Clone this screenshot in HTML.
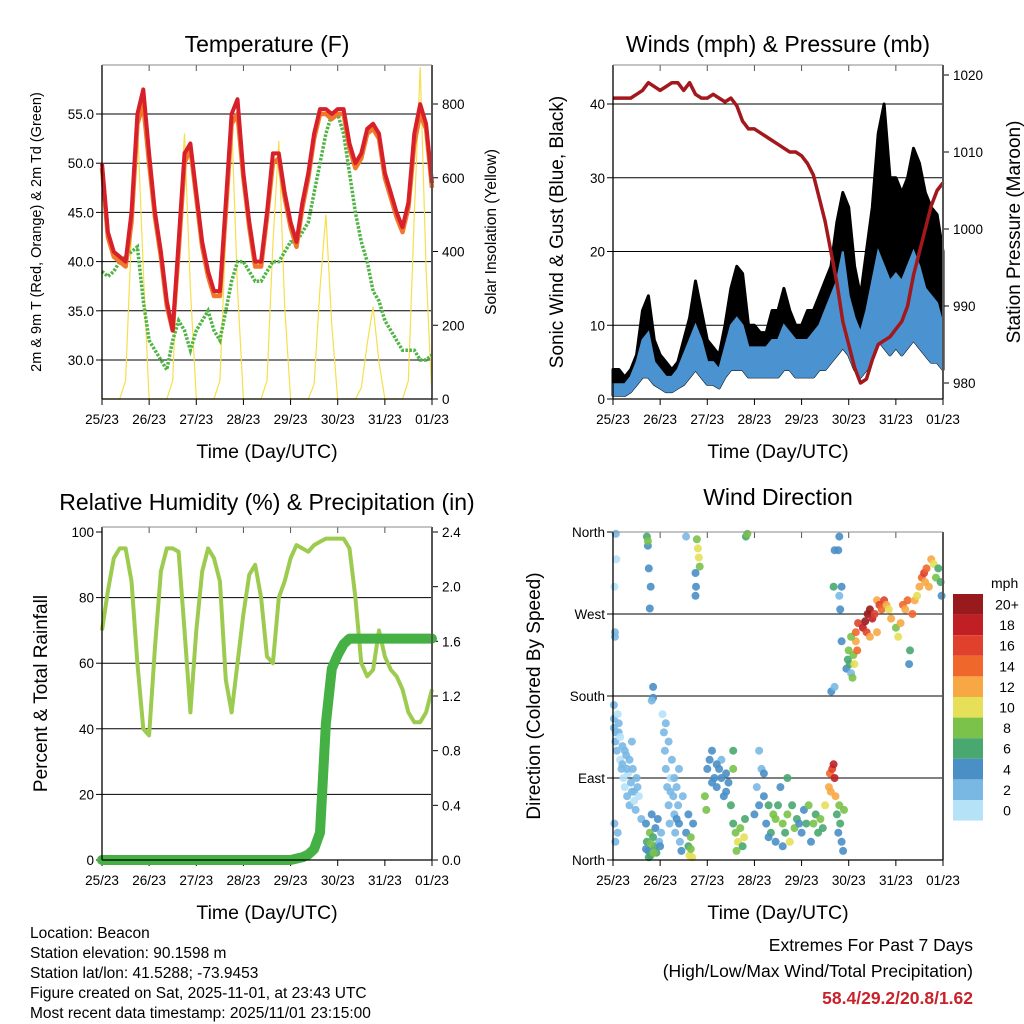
<!DOCTYPE html>
<html><head><meta charset="utf-8">
<style>
html,body{margin:0;padding:0;background:#fff;}
svg{display:block;font-family:"Liberation Sans",Arial,sans-serif;}
</style></head>
<body>
<svg id="fig" width="1024" height="1024" viewBox="0 0 1024 1024" xmlns="http://www.w3.org/2000/svg">
<rect width="1024" height="1024" fill="#fff"/>
<g id="layer"></g>
<g font-size="15.5" fill="#000">
<text x="30" y="938">Location: Beacon</text>
<text x="30" y="958">Station elevation: 90.1598 m</text>
<text x="30" y="978">Station lat/lon: 41.5288; -73.9453</text>
<text x="30" y="998">Figure created on Sat, 2025-11-01, at 23:43 UTC</text>
<text x="30" y="1018">Most recent data timestamp: 2025/11/01 23:15:00</text>
</g>
<g text-anchor="end">
<text x="973" y="951" font-size="17.5">Extremes For Past 7 Days</text>
<text x="973" y="977" font-size="17.5">(High/Low/Max Wind/Total Precipitation)</text>
<text x="973" y="1004" font-size="17.5" font-weight="bold" fill="#c8222a">58.4/29.2/20.8/1.62</text>
</g>
</svg>
<script>
// ---- data (3-hourly, t = 0..7 days) ----
const dayLabels = ["25/23","26/23","27/23","28/23","29/23","30/23","31/23","01/23"];
const tempRed = [50,43,41,40.5,40,45,55,57.5, 51,45,41,36,33,42,51,52, 47,42,39,37,37,46,55,56.5, 49,44,40,40,45,51,51,47, 44,42,46,49,53,55.5,55.5,55, 55.5,55.5,52,50,51,53.5,54,53, 49,47,45,43.5,46,53,56,54, 48];
const tempOrange = [49.5,42.5,40.5,40,39.5,44,54,56, 50,44.5,40.5,35.5,33,41,50,51.5, 46.5,41.5,38.5,36.5,36.5,45,54,55, 48.5,43.5,39.5,39.5,44.5,50,50.5,46.5, 43.5,41.5,45.5,48.5,52.5,55,55,54.5, 55,55,51.5,49.5,50.5,53,53.5,52.5, 48.5,46.5,44.5,43,45.5,52,55,53.5, 47.5];
const dewGreen = [39,38.5,39,40,40.5,41,41.5,36, 32,31,30,29,32,34,33,31, 33,34,35,33,32,35,38,40, 40,39,38,38,39,40,40,41, 42,42,43,44,47,50,53,55, 55,53,49,45,42,40,37,36, 34,33,32,31,31,31,30,30, 30.5];
const solar = [0,0,0,0,50,450,750,350, 0,0,0,0,50,450,720,300, 0,0,0,0,50,450,760,300, 0,0,0,0,50,420,700,250, 0,0,0,0,40,300,500,200, 0,0,0,0,30,150,250,100, 0,0,0,0,50,500,900,350, 0];
const pressure = [1017,1017,1017,1017,1017.5,1018,1019,1018.5, 1018,1018.5,1019,1019,1018,1019,1017.5,1017, 1017,1017.5,1017,1016.5,1017,1016,1014,1013, 1013,1012.5,1012,1011.5,1011,1010.5,1010,1010, 1009.5,1008.5,1007,1004,1001,997,993,988, 985,982,980,980.5,983,985,985.5,986, 987,988,990,994,997,1000,1003,1005, 1006];
const gustHi = [4,4,3,4,6,12,14,8, 6,5,4,5,8,11,16,12, 8,7,6,10,15,18,17,10, 10,9,9,12,12,15,12,10, 10,12,12,14,16,18,24,28, 26,18,14,20,26,36,40,30, 30,28,30,34,32,28,26,25, 20];
const windHi = [2,2,2,3,5,8,9,5, 4,3,3,4,6,8,10,8, 5,5,4,7,10,11,10,7, 7,7,7,8,8,10,9,8, 8,8,9,10,12,14,16,20, 14,11,9,12,16,20,18,16, 17,16,18,20,18,15,14,13, 10];
const windLo = [0.5,0.5,0.5,1,2,3,3,2, 1.5,1,1,1.5,2,3,4,3, 2,2,1.5,3,4,4,4,3, 3,3,3,3,3,4,4,3, 3,3,3,4,4,5,6,7, 6,4,3,4,6,8,7,6, 7,6,7,8,7,6,5,5, 4];
const relHum = [70,82,92,95,95,85,60,40, 38,65,88,95,95,94,70,45, 70,88,95,92,85,55,45,60, 75,87,90,80,62,60,80,85, 92,96,95,94,96,97,98,98, 98,98,95,80,60,56,58,70, 62,58,56,52,45,42,42,45, 52];
const precip = [0,0,0,0,0,0,0,0, 0,0,0,0,0,0,0,0, 0,0,0,0,0,0,0,0, 0,0,0,0,0,0,0,0, 0,0.01,0.02,0.04,0.08,0.2,1.0,1.4, 1.5,1.58,1.62,1.62,1.62,1.62,1.62,1.62, 1.62,1.62,1.62,1.62,1.62,1.62,1.62,1.62, 1.62];
const tempTicks = [30,35,40,45,50,55];
const solarTicks = [0,200,400,600,800];
const windTicks = [0,10,20,30,40];
const presTicks = [980,990,1000,1010,1020];
const rhTicks = [0,20,40,60,80,100];
const rainTicks = [0,0.4,0.8,1.2,1.6,2.0,2.4];
const dirTicks = [0,90,180,270,360];
const dirLabels = ["North","East","South","West","North"];
const speedBins = [0,2,4,6,8,10,12,14,16,18,20];
const speedBinLabels = ["0","2","4","6","8","10","12","14","16","18","20+"];
const speedColors = ["#b6e2f8","#7ab8e4","#4a8fc6","#48a870","#7ac24a","#e6df58","#f7a845","#f0672b","#e0402c","#c01f26","#981a1d"];
// wind direction obs: [day, direction deg, speed mph]
const windObs = [[0.02,155,2],[0.05,130,2],[0.08,120,2],[0.1,160,1],[0.12,140,2],[0.15,110,1],[0.18,100,2],[0.2,125,2],[0.22,90,1],[0.25,80,1],[0.28,115,2],[0.3,70,2],[0.32,95,1],[0.35,60,2],[0.38,85,2],[0.4,130,2],[0.42,100,2],[0.45,75,2],[0.48,55,2],[0.5,90,2],[0.55,70,1],[0.6,45,2],[0.03,40,3],[0.05,20,3],[0.1,30,2],[0.04,250,2],[0.04,245,2],[0.07,330,1],[0.06,358,2],[0.03,300,1],[0.02,170,2],[0.02,145,2],[0.06,140,2],[0.12,150,2],[0.15,135,1],[0.2,105,2],[0.25,120,2],[0.3,100,2],[0.35,110,2],[0.4,75,2],[0.45,65,1],[0.52,80,2],
[0.7,40,4],[0.72,20,6],[0.75,10,5],[0.78,30,8],[0.8,5,6],[0.82,50,4],[0.85,25,7],[0.88,15,6],[0.9,35,5],[0.92,8,7],[0.95,45,4],[0.98,20,3],[0.72,355,6],[0.74,345,5],[0.76,320,4],[0.8,300,4],[0.78,276,4],[0.74,350,8],[0.85,190,4],[0.85,178,4],[0.82,175,2],[0.7,12,4],[0.76,3,6],[0.8,18,8],[0.86,8,8],
[1.05,160,1],[1.08,140,2],[1.1,120,2],[1.12,100,2],[1.15,80,2],[1.18,60,2],[1.2,40,2],[1.22,90,1],[1.25,110,2],[1.28,70,2],[1.3,50,2],[1.32,30,2],[1.35,80,3],[1.38,60,3],[1.4,40,4],[1.42,20,3],[1.45,10,4],[1.48,70,2],[1.02,30,2],[1.0,15,4],[1.12,150,2],[1.18,130,2],[1.22,75,2],[1.3,90,2],[1.35,45,4],[1.4,100,2],
[1.55,30,4],[1.6,15,6],[1.62,5,10],[1.65,25,8],[1.68,3,10],[1.7,40,5],[1.55,355,3],[1.78,352,8],[1.8,342,10],[1.82,332,10],[1.84,322,8],[1.76,300,4],[1.75,290,4],[1.75,315,4],[1.6,50,4],[1.65,12,8],
[1.95,70,8],[1.98,55,8],[2.0,100,4],[2.05,110,4],[2.1,120,4],[2.15,90,4],[2.2,80,4],[2.25,100,4],[2.3,110,3],[2.35,70,4],[2.4,95,4],[2.45,85,4],[2.5,60,6],[2.55,40,6],[2.6,30,8],[2.65,20,10],[2.7,35,8],[2.75,15,6],[2.78,25,10],[2.8,45,6],[2.55,100,8],[2.55,120,6],[2.82,355,6],[2.85,358,8],[2.1,85,4],[2.2,105,4],[2.3,90,4],[2.4,75,4],[2.62,10,8],
[3.0,50,4],[3.05,80,2],[3.1,120,2],[3.15,100,3],[3.2,70,4],[3.25,40,4],[3.3,60,6],[3.35,30,6],[3.4,50,8],[3.45,20,4],[3.5,60,6],[3.55,80,4],[3.6,40,8],[3.65,30,6],[3.7,50,8],[3.75,20,10],[3.8,60,6],[3.85,35,8],[3.9,45,6],[3.95,40,4],[3.7,90,6],[3.1,60,4],[3.2,95,4],[3.3,25,4],[3.45,45,8],[3.6,15,4],
[4.0,30,4],[4.05,55,4],[4.1,40,6],[4.15,60,8],[4.2,20,4],[4.3,50,6],[4.35,30,6],[4.4,45,8],[4.5,60,10],[4.45,35,6],[4.25,40,8],
[4.58,80,12],[4.6,95,14],[4.62,75,12],[4.65,100,16],[4.7,90,18],[4.72,70,12],[4.68,105,18],[4.63,185,4],[4.7,190,2],[4.7,340,4],[4.68,300,6],
[4.75,50,6],[4.78,30,4],[4.8,60,8],[4.82,40,6],[4.85,20,4],[4.88,10,4],[4.9,55,8],[4.85,300,4],[4.8,290,2],[4.82,275,4],[4.85,240,4],[4.8,355,4],[4.78,340,4],
[4.95,210,4],[4.98,220,6],[5.0,230,8],[5.02,215,6],[5.05,205,2],[5.08,200,8],[5.1,225,8],[5.12,215,10],[5.15,240,12],[5.18,230,14],[5.05,245,8],[5.15,250,14],[5.2,260,16],
[5.3,255,18],[5.35,262,20],[5.4,270,20],[5.45,275,20],[5.5,265,18],[5.38,250,16],[5.45,245,12],[5.55,270,16],[5.6,285,12],[5.65,280,16],[5.7,275,14],[5.75,285,16],[5.8,280,12],[5.6,250,12],[5.85,275,10],[5.9,265,12],
[6.0,255,8],[6.05,245,10],[6.1,260,12],[6.15,280,14],[6.2,275,12],[6.25,285,14],[6.3,230,6],[6.28,215,4],[6.35,270,14],[6.4,285,12],[6.45,290,10],[6.5,300,12],[6.55,310,14],[6.6,315,16],[6.62,305,12],[6.65,320,14],[6.7,300,12],[6.75,330,12],[6.8,325,10],[6.85,310,8],[6.9,320,6],[6.95,305,6],[6.97,290,4]];

// ---- helpers ----
const NS = "http://www.w3.org/2000/svg";
const layer = document.getElementById("layer");
function el(tag, attrs, parent, txt){
  const e = document.createElementNS(NS, tag);
  for (const k in attrs) e.setAttribute(k, attrs[k]);
  if (txt !== undefined) e.textContent = txt;
  (parent || layer).appendChild(e);
  return e;
}
function lin(d0,d1,r0,r1){ return v => r0 + (v-d0)/(d1-d0)*(r1-r0); }
const tIdx = i => i*0.125;
function pathFrom(vals, xs, ys){
  return vals.map((v,i)=> (i?"L":"M") + xs(tIdx(i)).toFixed(1) + "," + ys(v).toFixed(1)).join("");
}
function bandPath(lo, hi, xs, ys){
  let d = hi.map((v,i)=> (i?"L":"M") + xs(tIdx(i)).toFixed(1) + "," + ys(v).toFixed(1)).join("");
  for (let i = lo.length-1; i >= 0; i--) d += "L" + xs(tIdx(i)).toFixed(1) + "," + ys(lo[i]).toFixed(1);
  return d + "Z";
}

function panel(cfg){
  const g = el("g", {});
  
  
  const {x0,x1,y0,y1} = cfg;
  const xs = lin(0,7,x0,x1);
  const tt = el("text", {x:(x0+x1)/2, y:cfg.titleY, "text-anchor":"middle", "font-size":23}, g, cfg.title);
  
  
  const lg = el("g", {}, g);
  
  
  cfg.leftTicks.forEach((v,i)=>{
    const y = cfg.ly(v);
    if (cfg.grid(v)) {
      const gl = el("line", {x1:x0, x2:x1, y1:y, y2:y, stroke:"#000", "stroke-width":1}, lg);
      
      
    }
    el("line", {x1:x0-6, x2:x0, y1:y, y2:y, stroke:"#000", "stroke-width":1}, lg);
    const lt = el("text", {x:x0-8, y:y+5, "text-anchor":"end", "font-size":13.5}, lg, cfg.leftFmt(v,i));
    
    
  });
  if (cfg.rightTicks) {
    const rg = el("g", {}, g);
    
    
    cfg.rightTicks.forEach(v=>{
      const y = cfg.ry(v);
      el("line", {x1:x1, x2:x1+6, y1:y, y2:y, stroke:"#000", "stroke-width":1}, rg);
      const rt = el("text", {x:x1+10, y:y+5, "font-size":13.5}, rg, cfg.rightFmt(v));
      
      
    });
  }
  const xg = el("g", {}, g);
  
  
  dayLabels.forEach((lab,i)=>{
    const x = xs(i);
    el("line", {x1:x, x2:x, y1:y1, y2:y1+6, stroke:"#000"}, xg);
    el("line", {x1:x, x2:x, y1:y0, y2:y0+6, stroke:"#555"}, xg);
    const xt = el("text", {x:x, y:y1+25, "text-anchor":"middle", "font-size":13.5}, xg, lab);
    
    
  });
  const xa = el("text", {x:(x0+x1)/2, y:y1+59, "text-anchor":"middle", "font-size":19.5}, g, "Time (Day/UTC)");
  
  
  const la = el("text", {x:0, y:0, "text-anchor":"middle", "font-size":cfg.lfs, transform:`translate(${cfg.lx},${(y0+y1)/2}) rotate(-90)`}, g, cfg.ltitle);
  
  
  if (cfg.rtitle) {
    const ra = el("text", {x:0, y:0, "text-anchor":"middle", "font-size":cfg.rfs, transform:`translate(${cfg.rx},${(y0+y1)/2}) rotate(-90)`}, g, cfg.rtitle);
    
    
  }
  const data = el("g", {}, g);
  
  
  cfg.draw(data, xs);
  el("line", {x1:x0, x2:x0, y1:y0, y2:y1, stroke:"#000", "stroke-width":1.3}, g);
  el("line", {x1:x1, x2:x1, y1:y0, y2:y1, stroke:"#555", "stroke-width":2}, g);
  el("line", {x1:x0, x2:x1, y1:y1, y2:y1, stroke:"#000", "stroke-width":1.3}, g);
  el("line", {x1:x0, x2:x1, y1:y0, y2:y0, stroke:"#888", "stroke-width":1}, g);
}

// ---- Temperature ----
const tY = lin(30,55,360,114);
const sY = lin(0,800,399,104);
panel({name:"temperature-chart", x0:102,x1:432,y0:65,y1:399, title:"Temperature (F)", titleY:52,
  leftTicks:tempTicks, ly:tY, grid:()=>true, leftFmt:v=>v.toFixed(1),
  rightTicks:solarTicks, ry:sY, rightFmt:v=>String(v),
  ltitle:"2m & 9m T (Red, Orange) & 2m Td (Green)", lx:41, lfs:14.5,
  rtitle:"Solar Insolation (Yellow)", rx:496, rfs:15.5,
  draw:(g,xs)=>{
    const s = el("path", {d:pathFrom(solar,xs,sY), fill:"none", stroke:"#f6df4c", "stroke-width":1.2}, g);
    
    
    const d = el("path", {d:pathFrom(dewGreen,xs,tY), fill:"none", stroke:"#4fb444", "stroke-width":3.5, "stroke-dasharray":"2.5 1.5"}, g);
    
    
    const o = el("path", {d:pathFrom(tempOrange,xs,tY), fill:"none", stroke:"#f0782a", "stroke-width":4.5, "stroke-linejoin":"round"}, g);
    
    
    const r = el("path", {d:pathFrom(tempRed,xs,tY), fill:"none", stroke:"#d8202a", "stroke-width":4, "stroke-linejoin":"round"}, g);
    
    
  }});

// ---- Winds & Pressure ----
const wY = lin(0,40,399,104);
const pY = lin(980,1020,383,75);
panel({name:"winds-pressure-chart", x0:613,x1:943,y0:65,y1:399, title:"Winds (mph) & Pressure (mb)", titleY:52,
  leftTicks:windTicks, ly:wY, grid:v=>v>0, leftFmt:v=>String(v),
  rightTicks:presTicks, ry:pY, rightFmt:v=>String(v),
  ltitle:"Sonic Wind & Gust (Blue, Black)", lx:563, lfs:19,
  rtitle:"Station Pressure (Maroon)", rx:1020, rfs:19,
  draw:(g,xs)=>{
    const gb = el("path", {d:bandPath(windLo,gustHi,xs,wY), fill:"#000", stroke:"#000", "stroke-width":3, "stroke-linejoin":"round"}, g);
    
    
    const wb = el("path", {d:bandPath(windLo,windHi,xs,wY), fill:"#4a93d0", stroke:"#4a93d0", "stroke-width":2}, g);
    
    
    const p = el("path", {d:pathFrom(pressure,xs,pY), fill:"none", stroke:"#a3181c", "stroke-width":3.5, "stroke-linejoin":"round"}, g);
    
    
  }});

// ---- RH & Precip ----
const hY = lin(0,100,860,532);
const rY = lin(0,2.4,860,532);
panel({name:"humidity-precip-chart", x0:102,x1:432,y0:527,y1:860, title:"Relative Humidity (%) & Precipitation (in)", titleY:510,
  leftTicks:rhTicks, ly:hY, grid:v=>v>0 && v<100, leftFmt:v=>String(v),
  rightTicks:rainTicks, ry:rY, rightFmt:v=>v.toFixed(1),
  ltitle:"Percent & Total Rainfall", lx:47, lfs:19,
  draw:(g,xs)=>{
    const h = el("path", {d:pathFrom(relHum,xs,hY), fill:"none", stroke:"#9ccb4f", "stroke-width":4, "stroke-linejoin":"round"}, g);
    
    
    const p = el("path", {d:pathFrom(precip,xs,rY), fill:"none", stroke:"#45b043", "stroke-width":10, "stroke-linejoin":"round", "stroke-linecap":"round"}, g);
    
    
  }});

// ---- Wind direction ----
const dY = lin(0,360,860,532);
function speedColor(s){ let c = speedColors[0]; speedBins.forEach((b,i)=>{ if (s >= b) c = speedColors[i]; }); return c; }
panel({name:"wind-direction-chart", x0:613,x1:943,y0:532,y1:860, title:"Wind Direction", titleY:505,
  leftTicks:dirTicks, ly:dY, grid:()=>true, leftFmt:(v,i)=>dirLabels[i],
  ltitle:"Direction (Colored By Speed)", lx:540, lfs:19,
  draw:(g,xs)=>{
    windObs.forEach(o=>{
      const c = el("circle", {cx:xs(o[0]).toFixed(1), cy:dY(o[1]).toFixed(1), r:4, fill:speedColor(o[2]), "fill-opacity":0.9}, g);
      
      
    });
  }});

// colorbar
const cb = el("g", {});


el("text", {x:991, y:588, "font-size":14}, cb, "mph");
speedColors.slice().reverse().forEach((c,i)=>{
  const y = 594 + i*20.6;
  const r = el("rect", {x:953, y:y, width:30, height:20.6, fill:c}, cb);
  
  
  const t = el("text", {x:1007, y:y+15.5, "text-anchor":"middle", "font-size":14}, cb, speedBinLabels[speedBinLabels.length-1-i]);
  
  
});
</script>
</body></html>
